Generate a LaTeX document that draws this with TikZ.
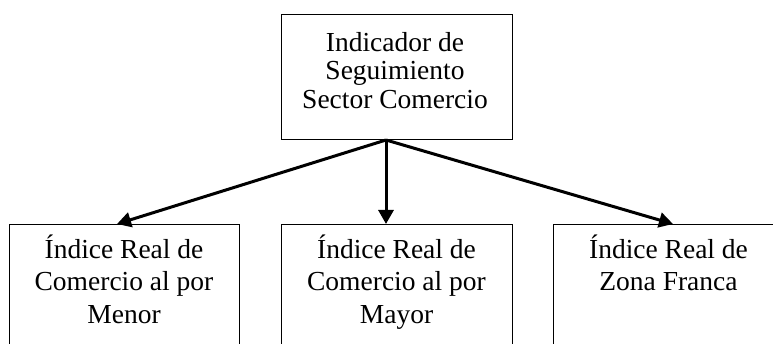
\documentclass[tikz,border=0pt]{standalone}
\usepackage{fontspec}
\setmainfont{Liberation Serif}
\usetikzlibrary{arrows.meta}
\tikzset{
  box/.style={draw=black, line width=1pt, rectangle, inner sep=0pt},
  toptext/.style={align=center, inner sep=0pt, font=\fontsize{27.5}{28.3}\selectfont},
  bottext/.style={align=center, inner sep=0pt, anchor=north, font=\fontsize{27.5}{32.5}\selectfont},
  arr/.style={line width=3pt, -{Triangle[length=14pt,width=15pt]}}
}
\begin{document}
\begin{tikzpicture}[x=1pt,y=-1pt]
\useasboundingbox (0,0) rectangle (773,344);
\clip (0,0) rectangle (773,344);
% top box
\node[box, minimum width=231pt, minimum height=125pt] (top) at (396.5,77) {};
\node[toptext] (toptxt) at (395,70.5) {Indicador de\\Seguimiento\\Sector Comercio};
% bottom boxes
\node[box, anchor=north, minimum width=230pt, minimum height=140pt] (l) at (124,224) {};
\node[box, anchor=north, minimum width=231pt, minimum height=140pt] (m) at (396.5,224) {};
\node[box, anchor=north, minimum width=231pt, minimum height=140pt] (r) at (668.5,224) {};
\node[bottext] (ltxt) at (124,234.5) {Índice Real de\\Comercio al por\\Menor};
\node[bottext] (mtxt) at (396.5,234.5) {Índice Real de\\Comercio al por\\Mayor};
\node[bottext] (rtxt) at (668.5,234.5) {Índice Real de\\Zona Franca};
% connectors
\coordinate (src) at ([xshift=-10.5pt]top.south);
\draw[arr] (src) -- ([xshift=-7pt]l.north);
\draw[arr] (src) -- ([xshift=-10.5pt]m.north);
\draw[arr] (src) -- ([xshift=4.5pt]r.north);
\end{tikzpicture}
\end{document}
